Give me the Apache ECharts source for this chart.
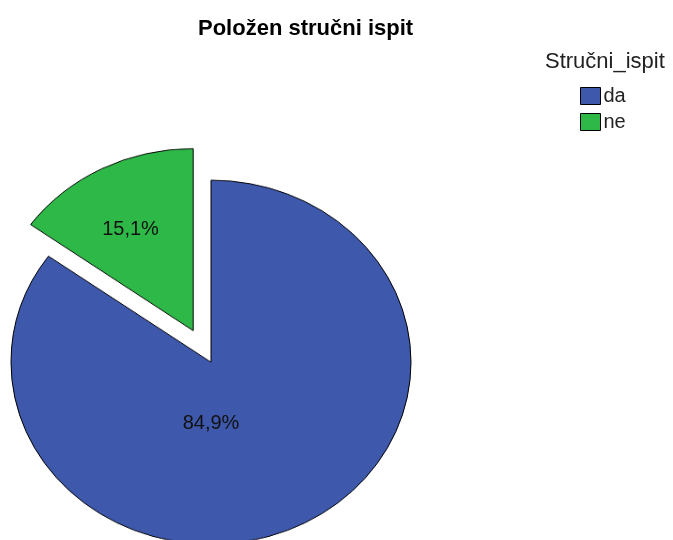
<!DOCTYPE html>
<html>
<head>
<meta charset="utf-8">
<script src="https://cdn.jsdelivr.net/npm/echarts@6/dist/echarts.min.js"></script>
<style>
  html, body { margin: 0; padding: 0; background: #fff; }
  #wrap { position: relative; width: 673px; height: 540px; overflow: hidden; }
  #pie { position: absolute; left: 0; top: 0; width: 673px; height: 594px; transform: scaleY(0.91); transform-origin: 0 0; }
  #top { position: absolute; left: 0; top: 0; width: 673px; height: 540px; }
</style>
</head>
<body>
<div id="wrap">
  <div id="pie"></div>
  <div id="top"></div>
</div>
<script>
const categories = ['da', 'ne'];
const values = [84.9, 15.1];
const colors = ['#3e58ac', '#2eb848'];
const chartTitle = 'Položen stručni ispit';
const legendTitle = 'Stručni_ispit';

const FONT = '"Liberation Sans", Arial, sans-serif';
const pieData = categories.map((c, i) => ({
  name: c, value: values[i], selected: c === 'ne',
  itemStyle: { color: colors[i] }
}));
const fmt = p => p.value.toFixed(1).replace('.', ',') + '%';

// Shape layer (drawn as circle, squeezed vertically to the ellipse of the reference)
const pieChart = echarts.init(document.getElementById('pie'), null, { renderer: 'canvas' });
pieChart.setOption({
  animation: false,
  series: [{
    type: 'pie',
    center: [211, 398],
    radius: [0, 200],
    startAngle: 90,
    clockwise: true,
    selectedMode: 'single',
    selectedOffset: 39,
    label: { show: false },
    labelLine: { show: false },
    itemStyle: { borderColor: '#000', borderWidth: 1 },
    emphasis: { disabled: true },
    data: pieData
  }]
});

// Text layer: title, legend, labels
const topChart = echarts.init(document.getElementById('top'), null, { renderer: 'canvas' });
topChart.setOption({
  animation: false,
  backgroundColor: 'transparent',
  title: [
    { text: chartTitle, left: 198, top: 18, padding: 0,
      textStyle: { fontFamily: FONT, fontSize: 22, fontWeight: 'bold', color: '#000' } },
    { text: legendTitle, left: 545, top: 51, padding: 0,
      textStyle: { fontFamily: FONT, fontSize: 22, fontWeight: 'normal', color: '#222' } }
  ],
  legend: {
    orient: 'vertical', left: 580, top: 86, padding: 0,
    itemWidth: 20, itemHeight: 17, itemGap: 6,
    icon: 'rect', selectedMode: false,
    itemStyle: { opacity: 1, borderColor: '#000', borderWidth: 1 },
    textStyle: { fontFamily: FONT, fontSize: 20, color: '#222', padding: [3, 0, 0, -2] },
    data: categories
  },
  series: [{
    type: 'pie',
    center: [211, 362],
    radius: [0, 200],
    startAngle: 90,
    clockwise: true,
    selectedMode: 'single',
    selectedOffset: 36,
    silent: true,
    emphasis: { disabled: true },
    label: { show: true, position: 'inside', formatter: fmt, opacity: 1,
      fontFamily: FONT, fontSize: 20, color: '#111' },
    labelLine: { show: false },
    labelLayout: p => (p.dataIndex === 0 ? { dx: -47, dy: -30 } : { dx: -17, dy: -9 }),
    data: pieData.map((d, i) => ({ name: d.name, value: d.value, selected: d.selected,
      itemStyle: { color: colors[i], opacity: 0 },
      label: { opacity: 1 } }))
  }]
});
</script>
</body>
</html>
